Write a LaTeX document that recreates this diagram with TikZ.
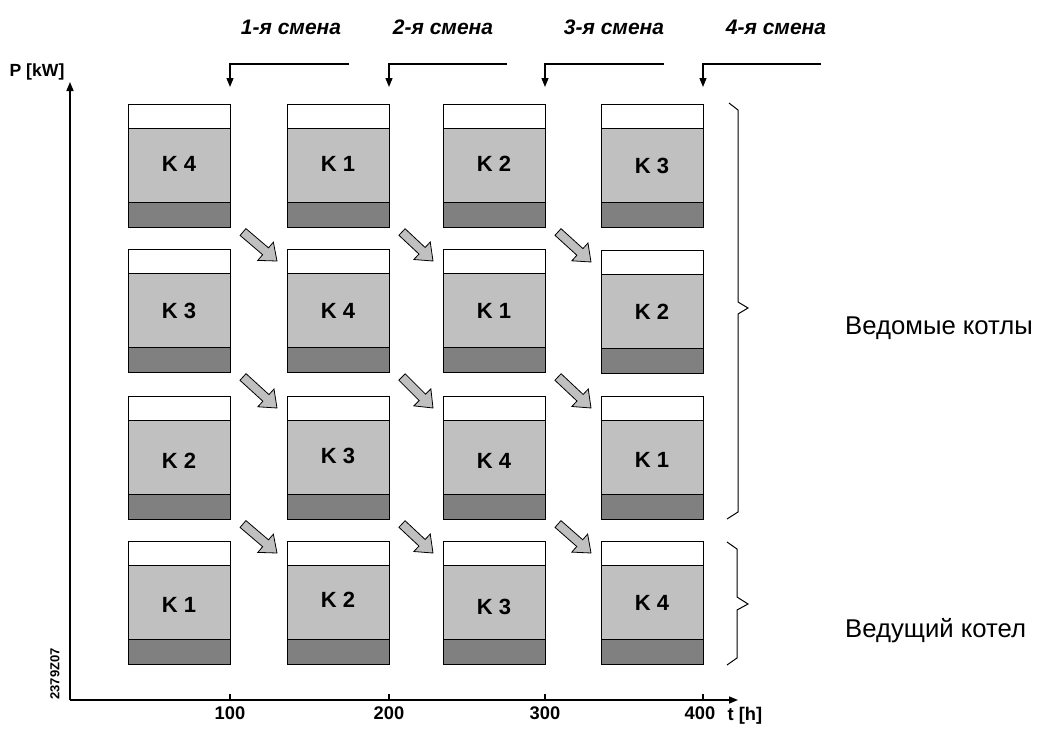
\documentclass[tikz,border=0pt]{standalone}
\usepackage{fontspec}
\setmainfont{Liberation Sans}
\usetikzlibrary{arrows.meta,calc}
\definecolor{lgray}{HTML}{C0C0C0}
\definecolor{dgray}{HTML}{808080}
\tikzset{
  kframe/.style={rectangle, minimum width=102pt, minimum height=123pt, inner sep=0pt, outer sep=0pt},
  band/.style={draw=black, line width=1pt},
  klabel/.style={inner sep=0pt, font=\fontsize{22}{26}\selectfont\bfseries},
  blockarr/.style={draw=black, fill=lgray, line width=0.8pt, line join=miter},
  axisline/.style={line width=1.5pt, -{Triangle[length=9pt,width=7pt]}},
  tickline/.style={line width=1.3pt},
  shiftarr/.style={line width=1.3pt, -{Triangle[length=9pt,width=7pt]}},
  shiftlabel/.style={inner sep=0pt, font=\fontsize{21}{25}\selectfont\bfseries\itshape},
  ticklabel/.style={inner sep=0pt, font=\fontsize{18.3}{22}\selectfont\bfseries},
  bracepath/.style={line width=1pt},
  sidelabel/.style={inner sep=0pt, anchor=base west, font=\fontsize{25.7}{30}\selectfont},
}
\newcommand\kbox[5]{%
  \node[kframe] (#1) at ({#2+51},{#3+61.5}) {};
  \filldraw[band, fill=white] (#1.north west) rectangle ($(#1.north east)+(0,24)$);
  \filldraw[band, fill=lgray] ($(#1.north west)+(0,24)$) rectangle ($(#1.north east)+(0,98)$);
  \filldraw[band, fill=dgray] ($(#1.north west)+(0,98)$) rectangle (#1.south east);
  \node[klabel] (#1l) at ($(#1.north)+(0,{61+#5})$) {#4};
}
\newcommand\barrow[3]{%
  \coordinate (ba#3) at ($(#1.south east)+(13,5)$);
  \coordinate (bb#3) at ($(#2.north west)+(-10,12)$);
  \coordinate (bh#3) at ($(bb#3)!15pt!(ba#3)$);
  \filldraw[blockarr] ($(ba#3)!4.5pt!90:(bb#3)$) -- ($(bh#3)!4.5pt!-90:(ba#3)$)
    -- ($(bh#3)!12pt!-90:(ba#3)$) -- (bb#3) -- ($(bh#3)!12pt!90:(ba#3)$)
    -- ($(bh#3)!4.5pt!90:(ba#3)$) -- ($(ba#3)!4.5pt!-90:(bb#3)$) -- cycle;
}
\begin{document}
\begin{tikzpicture}[x=1pt,y=-1pt]
\useasboundingbox (0,0) rectangle (1037,729);

% boxes: columns x = 128, 287, 443, 601 ; rows y = 104, 249, 396, 541
\kbox{b11}{128}{104}{K 4}{-1}
\kbox{b21}{287}{104}{K 1}{-1}
\kbox{b31}{443}{104}{K 2}{-1}
\kbox{b41}{601}{104}{K 3}{1}

\kbox{b12}{128}{249}{K 3}{1}
\kbox{b22}{287}{249}{K 4}{1}
\kbox{b32}{443}{249}{K 1}{1}
\kbox{b42}{601}{250}{K 2}{1}

\kbox{b13}{128}{396}{K 2}{4}
\kbox{b23}{287}{396}{K 3}{-1}
\kbox{b33}{443}{396}{K 4}{4}
\kbox{b43}{601}{396}{K 1}{3}

\kbox{b14}{128}{541}{K 1}{3}
\kbox{b24}{287}{541}{K 2}{-2}
\kbox{b34}{443}{541}{K 3}{5}
\kbox{b44}{601}{541}{K 4}{1}

% rotation arrows
\barrow{b11}{b22}{a1}
\barrow{b21}{b32}{a2}
\barrow{b31}{b42}{a3}
\barrow{b12}{b23}{a4}
\barrow{b22}{b33}{a5}
\barrow{b32}{b43}{a6}
\barrow{b13}{b24}{a7}
\barrow{b23}{b34}{a8}
\barrow{b33}{b44}{a9}

% axes
\coordinate (O) at (70,700);
\coordinate (ytip) at (70,82);
\coordinate (xtip) at (738,700);
\draw[axisline] (O) -- (ytip);
\draw[axisline] (O) -- (xtip);
\node[ticklabel, font=\fontsize{17.6}{21}\selectfont\bfseries] (plab) at (37,72) {P [kW]};
\node[ticklabel] (tlab) at (745,716) {t [h]};
\node[inner sep=0pt, rotate=90, font=\fontsize{13}{15}\selectfont\bfseries] (code) at (55,674) {2379Z07};

\coordinate (tk1) at (230,700);
\coordinate (tk2) at (389,700);
\coordinate (tk3) at (545,700);
\coordinate (tk4) at (703,700);
\draw[tickline] (tk1) -- ++(0,-6);
\draw[tickline] (tk2) -- ++(0,-6);
\draw[tickline] (tk3) -- ++(0,-6);
\draw[tickline] (tk4) -- ++(0,-6);
\node[ticklabel] (tl1) at (230,713) {100};
\node[ticklabel] (tl2) at (389,713) {200};
\node[ticklabel] (tl3) at (545,713) {300};
\node[ticklabel] (tl4) at (700,713) {400};

% shifts
\node[shiftlabel] (s1) at (291,27) {1-я смена};
\node[shiftlabel] (s2) at (443,27) {2-я смена};
\node[shiftlabel] (s3) at (614,27) {3-я смена};
\node[shiftlabel] (s4) at (776,27) {4-я смена};
\coordinate (ss1) at (349,64); \coordinate (st1) at (230,87);
\coordinate (ss2) at (507,64); \coordinate (st2) at (389,87);
\coordinate (ss3) at (664,64); \coordinate (st3) at (545,87);
\coordinate (ss4) at (821,64); \coordinate (st4) at (703,87);
\draw[shiftarr] (ss1) -| (st1);
\draw[shiftarr] (ss2) -| (st2);
\draw[shiftarr] (ss3) -| (st3);
\draw[shiftarr] (ss4) -| (st4);

% braces
\draw[bracepath] (729,103) -- (738,110) -- (738,302) -- (748,308) -- (738,314) -- (738,512) -- (727,519);
\draw[bracepath] (727,542) -- (737,549) -- (737,597) -- (748,604) -- (737,610) -- (737,658) -- (727,665);
\node[sidelabel] (slave) at (845,334) {Ведомые котлы};
\node[sidelabel] (lead) at (845,637) {Ведущий котел};
\end{tikzpicture}
\end{document}
